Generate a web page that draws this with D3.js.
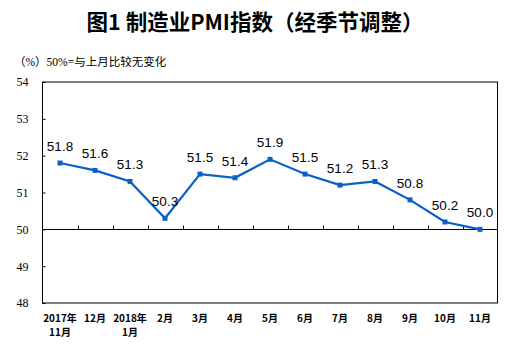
<!DOCTYPE html>
<html><head><meta charset="utf-8">
<script src="https://cdn.jsdelivr.net/npm/d3@7"></script>
<style>body{margin:0;background:#fff}</style>
</head><body>
<svg id="c" width="513" height="350"></svg>
<script>
const categories = ["2017年\n11月","12月","2018年\n1月","2月","3月","4月","5月","6月","7月","8月","9月","10月","11月"];
const values = [51.8,51.6,51.3,50.3,51.5,51.4,51.9,51.5,51.2,51.3,50.8,50.2,50.0];
const yTicks = [48,49,50,51,52,53,54];
const titleText = "图1  制造业PMI指数（经季节调整）";
const noteText = "（%）50%=与上月比较无变化";

const svg = d3.select("#c");
const L = 42.5, R = 497.5, T = 82, B = 303;
const x = d3.scaleBand().domain(d3.range(categories.length)).range([L, R]);
const y = d3.scaleLinear().domain([48, 54]).range([B, T]);
const blue = "#0a5fc8";

svg.append("text").attr("x", 255).attr("y", 30).attr("text-anchor", "middle")
  .attr("font-family", "Noto Sans CJK SC").attr("font-weight", "bold").attr("font-size", 21.5)
  .attr("fill", "#000").text(titleText);
svg.append("text").attr("x", 14).attr("y", 66)
  .attr("font-family", "Liberation Serif, Noto Sans CJK SC").attr("font-size", 11.5)
  .attr("fill", "#000").text(noteText);

// frame
svg.append("rect").attr("x", L).attr("y", T).attr("width", R - L).attr("height", B - T)
  .attr("fill", "none").attr("stroke", "#000").attr("stroke-width", 1);

// y axis ticks (inward) and labels
const yAxis = d3.axisLeft(y).tickValues(yTicks).tickSize(-3).tickPadding(14).tickFormat(d3.format("d"));
const ga = svg.append("g").attr("transform", `translate(${L},0)`).call(yAxis);
ga.select(".domain").remove();
ga.selectAll("line").attr("stroke", "#000");
ga.selectAll("text").attr("font-family", "Liberation Serif").attr("font-size", 12).attr("fill", "#000");

// 50 line with category ticks upward
const y50 = Math.round(y(50)) + 0.5;
svg.append("line").attr("x1", L).attr("x2", R).attr("y1", y50).attr("y2", y50).attr("stroke", "#000");
svg.append("g").selectAll("line").data(d3.range(1, categories.length)).join("line")
  .attr("x1", i => Math.round(x(i)) + 0.5).attr("x2", i => Math.round(x(i)) + 0.5)
  .attr("y1", y50).attr("y2", y50 - 4).attr("stroke", "#000");

// x labels
const xl = svg.append("g").selectAll("text").data(categories).join("text")
  .attr("x", (d, i) => x(i) + x.bandwidth() / 2).attr("y", 322)
  .attr("text-anchor", "middle").attr("font-family", "Noto Sans CJK SC").attr("font-weight", "bold")
  .attr("font-size", 10).attr("fill", "#000");
xl.each(function(d) {
  const parts = d.split("\n");
  const t = d3.select(this);
  parts.forEach((p, k) => t.append("tspan").attr("x", t.attr("x")).attr("dy", k ? 14 : 0).text(p));
});

// line
const cx = i => x(i) + x.bandwidth() / 2;
svg.append("path").datum(values)
  .attr("d", d3.line().x((d, i) => cx(i)).y(d => y(d)))
  .attr("fill", "none").attr("stroke", blue).attr("stroke-width", 2.2);
svg.append("g").selectAll("rect").data(values).join("rect")
  .attr("x", (d, i) => cx(i) - 2.5).attr("y", d => y(d) - 2.5)
  .attr("width", 5).attr("height", 5).attr("fill", blue);

// value labels
svg.append("g").selectAll("text").data(values).join("text")
  .attr("x", (d, i) => cx(i)).attr("y", d => y(d) - 12)
  .attr("text-anchor", "middle").attr("font-family", "Liberation Sans").attr("font-size", 13.5)
  .attr("fill", "#000").text(d => d.toFixed(1));
</script>
</body></html>
